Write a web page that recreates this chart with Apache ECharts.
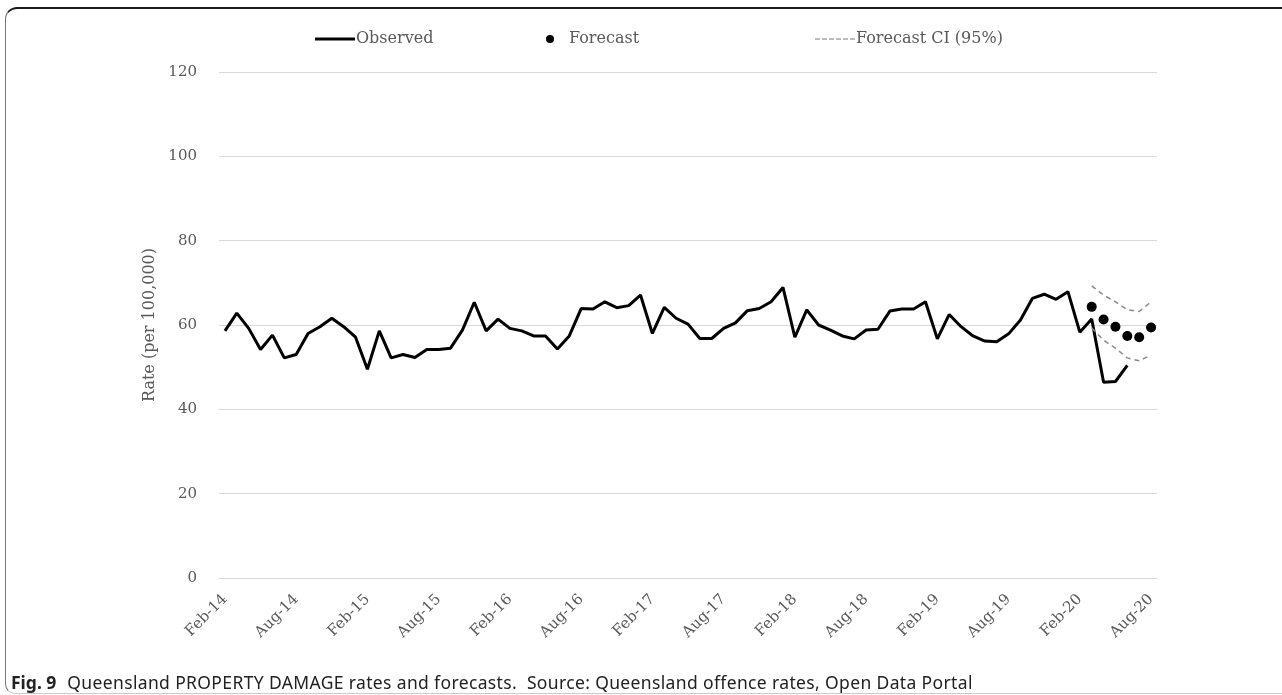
<!DOCTYPE html>
<html>
<head>
<meta charset="utf-8">
<script src="https://cdn.jsdelivr.net/npm/echarts@6/dist/echarts.min.js"></script>
<style>
  html, body { margin: 0; padding: 0; background: #fff; }
  #wrap { position: relative; width: 1282px; height: 695px; overflow: hidden; }
  #chart { position: absolute; left: 0; top: 0; width: 1282px; height: 695px; }
  #frame { position: absolute; left: 5px; top: 7px; width: 1300px; height: 684px;
    border-top: 2px solid #1a1a1a; border-left: 1.5px solid #777; border-bottom: 1px solid #ccc;
    border-top-left-radius: 12px; border-bottom-left-radius: 10px; pointer-events: none; }
  #caption { position: absolute; left: 11px; top: 670px; font-family: "Noto Sans", sans-serif;
    font-size: 17.5px; color: #222; white-space: nowrap; letter-spacing: 0.36px; line-height: 24px; }
  #caption b { font-weight: bold; margin-right: 6px; letter-spacing: 0; }
</style>
</head>
<body>
<div id="wrap">
  <div id="chart"></div>
  <div id="frame"></div>
  <div id="caption"><b>Fig. 9</b> Queensland PROPERTY DAMAGE rates and forecasts.&nbsp; Source: Queensland offence rates, Open Data Portal</div>
</div>
<script>
// Month categories Feb-14 .. Aug-20
const monthNames = ["Jan","Feb","Mar","Apr","May","Jun","Jul","Aug","Sep","Oct","Nov","Dec"];
const categories = [];
for (let y = 14; y <= 20; y++) {
  for (let m = 0; m < 12; m++) {
    if (y === 14 && m < 1) continue;
    if (y === 20 && m > 7) continue;
    categories.push(monthNames[m] + "-" + y);
  }
}
const yTicks = [0, 20, 40, 60, 80, 100, 120];

// Observed rates, Feb-14 .. Jun-20
const observed = [
  58.6, 62.8, 59.2, 54.2, 57.6, 52.2, 53.0, 58.0, 59.6, 61.6, 59.6, 57.1,
  49.5, 58.6, 52.2, 53.0, 52.3, 54.2, 54.2, 54.5, 58.8, 65.4, 58.6, 61.4,
  59.2, 58.6, 57.4, 57.4, 54.3, 57.4, 63.9, 63.8, 65.5, 64.1, 64.6, 67.1,
  58.0, 64.2, 61.6, 60.2, 56.8, 56.8, 59.2, 60.5, 63.4, 63.9, 65.5, 68.9,
  57.1, 63.6, 60.0, 58.8, 57.4, 56.7, 58.8, 59.0, 63.3, 63.8, 63.8, 65.5,
  56.7, 62.5, 59.6, 57.4, 56.2, 56.0, 57.9, 61.2, 66.3, 67.3, 66.1, 67.9,
  58.3, 61.4, 46.4, 46.6, 50.4
];
// Forecast Mar-20 .. Aug-20 (category index 73 .. 78)
const forecastStart = 73;
const forecast = [64.3, 61.3, 59.6, 57.4, 57.1, 59.4];
const ciUpper = [69.3, 67.1, 65.5, 63.6, 63.2, 65.5];
const ciLower = [59.3, 56.4, 54.5, 52.2, 51.5, 52.9];

function pad(arr, start) {
  const out = new Array(categories.length).fill(null);
  arr.forEach((v, i) => { out[start + i] = v; });
  return out;
}

const serif = "DejaVu Serif";
const txt = "#595959";
const dashIcon = 'path://M0,0h5v1h-5z M7,0h5v1h-5z M14,0h5v1h-5z M21,0h5v1h-5z M28,0h5v1h-5z M35,0h5v1h-5z';
const chart = echarts.init(document.getElementById('chart'));
chart.setOption({
  animation: false,
  grid: { left: 219, right: 125, top: 72, bottom: 117 },
  legend: [
    { data: [{ name: "Observed", icon: 'rect', itemStyle: { color: '#000' } }], left: 310, top: 26, itemWidth: 40, itemHeight: 3,
      textStyle: { fontFamily: serif, fontSize: 16, color: txt, padding: [0, 0, 0, -4] } },
    { data: [{ name: "Forecast", icon: "circle", itemStyle: { color: '#000', opacity: 1 } }], left: 541, top: 26, itemWidth: 8, itemHeight: 8,
      textStyle: { fontFamily: serif, fontSize: 16, color: txt, padding: [0, 0, 0, 10] } },
    { data: [{ name: "Forecast CI (95%)", icon: dashIcon, itemStyle: { color: '#7a7a7a' } }], left: 810, top: 26, itemWidth: 40, itemHeight: 1.5,
      textStyle: { fontFamily: serif, fontSize: 16, color: txt, padding: [0, 0, 0, -4] } }
  ],
  xAxis: {
    type: 'category',
    data: categories,
    boundaryGap: true,
    axisLine: { lineStyle: { color: '#d9d9d9', width: 1 } },
    axisTick: { show: false },
    axisLabel: { interval: 5, rotate: 45, margin: 19, fontFamily: serif, fontSize: 15, color: txt }
  },
  yAxis: {
    type: 'value',
    min: 0, max: 120, interval: 20,
    name: "Rate (per 100,000)",
    nameLocation: 'middle',
    nameGap: 55,
    nameTextStyle: { fontFamily: serif, fontSize: 16, color: txt },
    axisLine: { show: false },
    axisTick: { show: false },
    splitLine: { lineStyle: { color: '#d9d9d9', width: 1 } },
    axisLabel: { margin: 22, fontFamily: serif, fontSize: 15, color: txt,
      formatter: v => yTicks.includes(v) ? String(v) : '' }
  },
  series: [
    { name: "Observed", type: 'line', data: observed, symbol: 'none',
      lineStyle: { color: '#000', width: 3 }, itemStyle: { color: '#000' } },
    { name: "Forecast", type: 'scatter', data: pad(forecast, forecastStart), symbol: 'circle', symbolSize: 10,
      itemStyle: { color: '#000', opacity: 1 } },
    { name: "Forecast CI (95%)", type: 'line', data: pad(ciUpper, forecastStart), symbol: 'none',
      lineStyle: { color: '#8c8c8c', width: 1.5, type: [5, 4] }, itemStyle: { color: '#8c8c8c' } },
    { name: "Forecast CI (95%)", type: 'line', data: pad(ciLower, forecastStart), symbol: 'none',
      lineStyle: { color: '#8c8c8c', width: 1.5, type: [5, 4] }, itemStyle: { color: '#8c8c8c' } }
  ]
});
</script>
</body>
</html>
